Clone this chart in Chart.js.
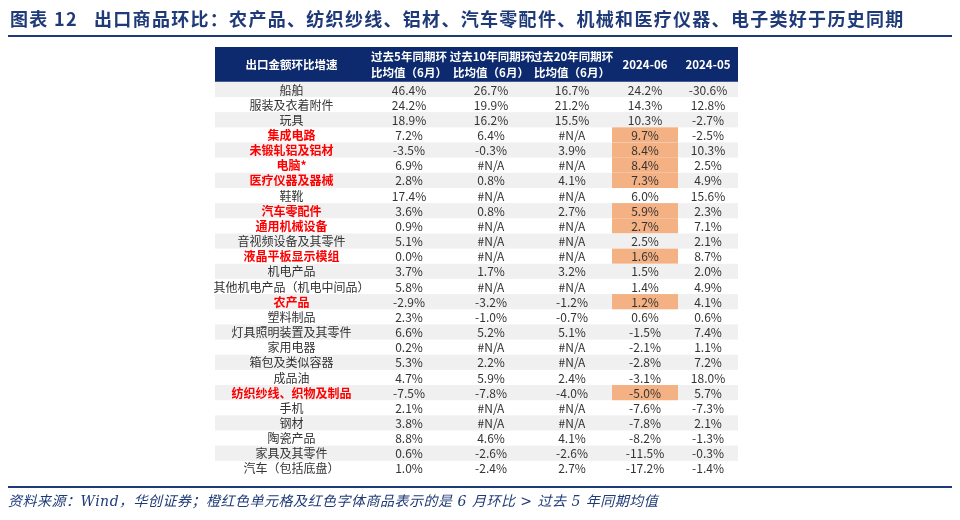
<!DOCTYPE html>
<html><head><meta charset="utf-8">
<script src="https://cdn.jsdelivr.net/npm/chart.js@4"></script>
<style>html,body{margin:0;padding:0;background:#fff}#w{width:960px;height:520px}</style>
</head><body><div id="w"><canvas id="c"></canvas></div>
<script>
const titleText = "图表 12   出口商品环比：农产品、纺织纱线、铝材、汽车零配件、机械和医疗仪器、电子类好于历史同期";
const footerText = "资料来源：Wind，华创证券；橙红色单元格及红色字体商品表示的是 6 月环比 > 过去 5 年同期均值";
const headers = [["出口金额环比增速"],["过去5年同期环","比均值（6月）"],["过去10年同期环","比均值（6月）"],["过去20年同期环","比均值（6月）"],["2024-06"],["2024-05"]];
const categories = ["船舶","服装及衣着附件","玩具","集成电路","未锻轧铝及铝材","电脑*","医疗仪器及器械","鞋靴","汽车零配件","通用机械设备","音视频设备及其零件","液晶平板显示模组","机电产品","其他机电产品（机电中间品）","农产品","塑料制品","灯具照明装置及其零件","家用电器","箱包及类似容器","成品油","纺织纱线、织物及制品","手机","钢材","陶瓷产品","家具及其零件","汽车（包括底盘）"];
const avg5  = ["46.4%","24.2%","18.9%","7.2%","-3.5%","6.9%","2.8%","17.4%","3.6%","0.9%","5.1%","0.0%","3.7%","5.8%","-2.9%","2.3%","6.6%","0.2%","5.3%","4.7%","-7.5%","2.1%","3.8%","8.8%","0.6%","1.0%"];
const avg10 = ["26.7%","19.9%","16.2%","6.4%","-0.3%","#N/A","0.8%","#N/A","0.8%","#N/A","#N/A","#N/A","1.7%","#N/A","-3.2%","-1.0%","5.2%","#N/A","2.2%","5.9%","-7.8%","#N/A","#N/A","4.6%","-2.6%","-2.4%"];
const avg20 = ["16.7%","21.2%","15.5%","#N/A","3.9%","#N/A","4.1%","#N/A","2.7%","#N/A","#N/A","#N/A","3.2%","#N/A","-1.2%","-0.7%","5.1%","#N/A","#N/A","2.4%","-4.0%","#N/A","#N/A","4.1%","-2.6%","2.7%"];
const m2406 = ["24.2%","14.3%","10.3%","9.7%","8.4%","8.4%","7.3%","6.0%","5.9%","2.7%","2.5%","1.6%","1.5%","1.4%","1.2%","0.6%","-1.5%","-2.1%","-2.8%","-3.1%","-5.0%","-7.6%","-7.8%","-8.2%","-11.5%","-17.2%"];
const m2405 = ["-30.6%","12.8%","-2.7%","-2.5%","10.3%","2.5%","4.9%","15.6%","2.3%","7.1%","2.1%","8.7%","2.0%","4.9%","4.1%","0.6%","7.4%","1.1%","7.2%","18.0%","5.7%","-7.3%","2.1%","-1.3%","-0.3%","-1.4%"];
const highlighted = [3,4,5,6,8,9,11,14,20];
const colEdges = [0,153,235,317,397,463,523];

const FONT = '"Noto Sans CJK SC","Noto Sans",sans-serif';
const tablePlugin = {
  id:'table',
  afterDraw(chart){
    const ctx = chart.ctx, xs = chart.scales.x, ys = chart.scales.y;
    const X = v=>xs.getPixelForValue(v), Y = v=>ys.getPixelForValue(v);
    ctx.save();
    ctx.fillStyle = '#1f3a78'; ctx.font = 'bold 18px '+FONT; ctx.textBaseline='middle'; ctx.textAlign='left';
    ctx.letterSpacing = '1.3px';
    ctx.fillText(titleText, 10, 19);
    ctx.letterSpacing = '0px';
    ctx.fillRect(8, 35, 944, 2);
    ctx.fillRect(8, 486, 944, 2);
    ctx.font = 'italic 14px "DejaVu Serif","Noto Sans CJK SC",serif';
    ctx.letterSpacing = '0.5px';
    ctx.fillText(footerText, 8, 502);
    ctx.letterSpacing = '0px';
    ctx.fillStyle = '#0e2a6e';
    ctx.fillRect(X(0), Y(-2.3), X(523)-X(0), Y(0)-Y(-2.3));
    ctx.fillStyle = '#fff'; ctx.font = 'bold 11.5px '+FONT; ctx.textAlign='center';
    headers.forEach((h,i)=>{
      const cx = (X(colEdges[i])+X(colEdges[i+1]))/2;
      const cy = (Y(-2.3)+Y(0))/2;
      if(h.length===1) ctx.fillText(h[0], cx, cy);
      else { ctx.fillText(h[0], cx, cy-8); ctx.fillText(h[1], cx, cy+8); }
    });
    const cols = [categories, avg5, avg10, avg20, m2406, m2405];
    categories.forEach((c,r)=>{
      const y0 = Y(r), y1 = Y(r+1);
      if(r%2===0){ ctx.fillStyle='#f0f0f0'; ctx.fillRect(X(0), y0, X(523)-X(0), y1-y0); }
      if(highlighted.includes(r)){ ctx.fillStyle='#f4b183'; ctx.fillRect(X(colEdges[4]), y0, X(colEdges[5])-X(colEdges[4]), y1-y0); }
      cols.forEach((col,i)=>{
        const red = i===0 && highlighted.includes(r);
        ctx.fillStyle = red ? '#ff0000' : '#333';
        ctx.font = (red?'bold ':'')+'12px '+FONT;
        ctx.fillText(col[r], (X(colEdges[i])+X(colEdges[i+1]))/2, (y0+y1)/2+0.5);
      });
    });
    ctx.restore();
  }
};
new Chart(document.getElementById('c'), {
  type:'scatter',
  data:{datasets:[{data:[]}]},
  options:{
    responsive:true, maintainAspectRatio:false, animation:false,
    layout:{padding:{left:215,right:222,top:47,bottom:44}},
    plugins:{legend:{display:false},tooltip:{enabled:false}},
    scales:{
      x:{type:'linear',min:0,max:523,display:false},
      y:{type:'linear',min:-2.3,max:26,reverse:true,display:false}
    }
  },
  plugins:[tablePlugin]
});
</script></body></html>
